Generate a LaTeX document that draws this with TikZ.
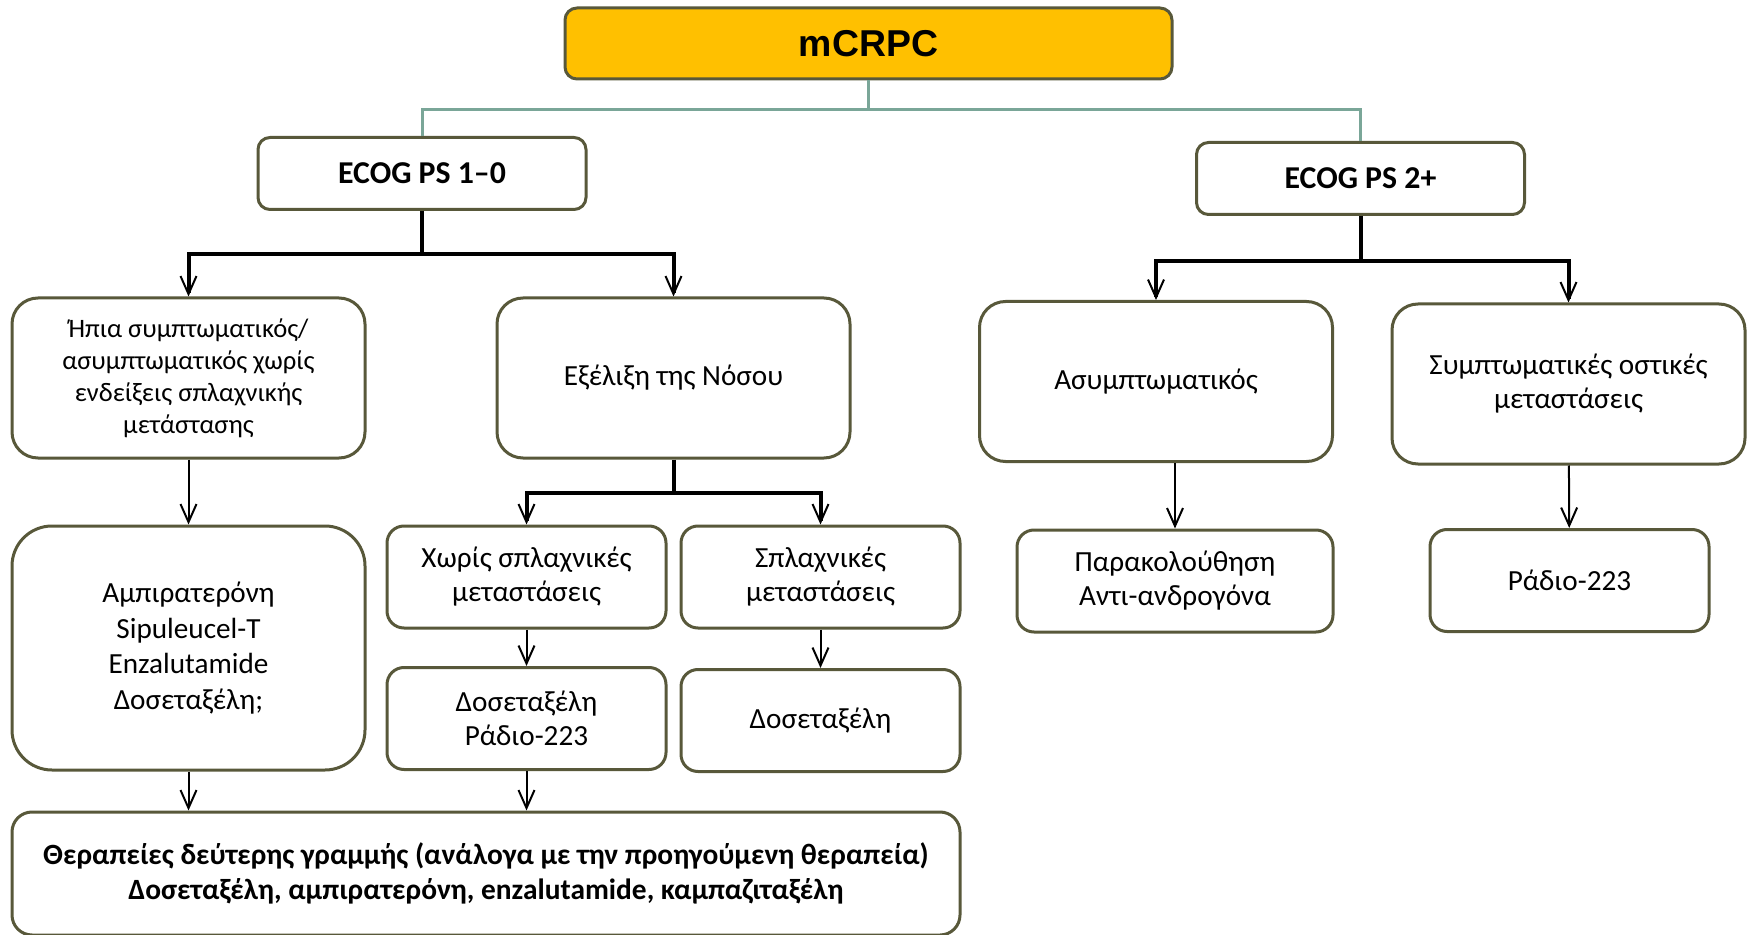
\documentclass[tikz,border=0pt]{standalone}
\usepackage{fontspec}
\setmainfont{Carlito}
\newfontfamily\arialfont{Liberation Sans}
\usetikzlibrary{arrows.meta}
\definecolor{boxline}{RGB}{88,88,58}
\definecolor{gold}{RGB}{255,192,0}
\definecolor{tealline}{RGB}{122,166,152}
\begin{document}
\begin{tikzpicture}[x=0.5pt,y=-0.5pt,
  box/.style={draw=boxline,line width=1.5pt,fill=white,align=center,
    inner sep=0pt,font=\fontsize{14.6}{17}\selectfont},
  bigbox/.style={box,rounded corners=13pt,minimum width=176.5pt,minimum height=80pt},
  smallbox/.style={box,rounded corners=8.5pt,minimum width=139.5pt,minimum height=51pt},
  headbox/.style={box,rounded corners=6pt,minimum width=164pt,minimum height=36pt,
    font=\fontsize{15.9}{18}\selectfont\bfseries},
  fork/.style={line width=2pt,-{Straight Barb[length=9pt,width=8pt,line width=1pt]}},
  link/.style={line width=1pt,-{Straight Barb[length=9pt,width=8pt]}}]
  \useasboundingbox (0,0) rectangle (1750,935);

  \node[box,fill=gold,rounded corners=6pt,minimum width=303.5pt,minimum height=35.5pt,
    font=\fontsize{18.7}{20}\selectfont\arialfont\bfseries] (mcrpc) at (868.5,43.5) {mCRPC};
  \node[headbox] (ecogA) at (422,173.5) {ECOG PS 1--0};
  \node[headbox] (ecogB) at (1360.5,178.5) {ECOG PS 2+};

  \node[bigbox,font=\fontsize{13.3}{16}\selectfont] (mild) at (188.5,378)
    {Ήπια συμπτωματικός/\\ασυμπτωματικός χωρίς\\ενδείξεις σπλαχνικής\\μετάστασης};
  \node[bigbox] (prog) at (673.5,378) {Εξέλιξη της Νόσου};
  \node[bigbox] (asym) at (1156,381.5) {Ασυμπτωματικός};
  \node[bigbox] (symp) at (1568.5,384) {Συμπτωματικές οστικές\\μεταστάσεις};

  \node[box,rounded corners=20pt,minimum width=176.5pt,minimum height=122pt,
    font=\fontsize{14.6}{17.7}\selectfont] (abi) at (188.5,648)
    {Αμπιρατερόνη\\Sipuleucel-T\\Enzalutamide\\Δοσεταξέλη;};
  \node[smallbox] (novisc) at (526.5,577) {Χωρίς σπλαχνικές\\μεταστάσεις};
  \node[smallbox] (visc) at (820.5,577) {Σπλαχνικές\\μεταστάσεις};
  \node[smallbox] (docra) at (526.5,718.5) {Δοσεταξέλη\\Ράδιο-223};
  \node[smallbox] (doc) at (820.5,720.5) {Δοσεταξέλη};
  \node[smallbox,minimum width=158pt] (watch) at (1175,581) {Παρακολούθηση\\Αντι-ανδρογόνα};
  \node[smallbox] (radium) at (1569.5,580.5) {Ράδιο-223};

  \node[box,rounded corners=10pt,minimum width=474pt,minimum height=61.5pt,
    font=\fontsize{14.7}{17.3}\selectfont\bfseries] (second) at (486,873.5)
    {Θεραπείες δεύτερης γραμμής (ανάλογα με την προηγούμενη θεραπεία)\\
     Δοσεταξέλη, αμπιρατερόνη, enzalutamide, καμπαζιταξέλη};

  \draw[tealline,line width=1.5pt] (mcrpc.south) -- ++(0,29) coordinate (top)
    -| (ecogA.north) (top) -| (ecogB.north);

  \draw[line width=2pt] (ecogA.south) -- ++(0,43) coordinate (splitA);
  \draw[fork] (splitA) -| (mild.north);
  \draw[fork] (splitA) -| (prog.north);
  \draw[line width=2pt] (ecogB.south) -- ++(0,45) coordinate (splitB);
  \draw[fork] (splitB) -| (asym.north);
  \draw[fork] (splitB) -| (symp.north);
  \draw[line width=2pt] (prog.south) -- ++(0,33) coordinate (splitP);
  \draw[fork] (splitP) -| (novisc.north);
  \draw[fork] (splitP) -| (visc.north);

  \draw[link] (mild) -- (abi);
  \draw[link] (novisc) -- (docra);
  \draw[link] (visc) -- (doc);
  \draw[link] (symp) -- (radium);
  \draw[link] (watch.north |- asym.south) -- (watch.north);
  \draw[link] (abi) -- (abi |- second.north);
  \draw[link] (docra) -- (docra |- second.north);
\end{tikzpicture}
\end{document}
